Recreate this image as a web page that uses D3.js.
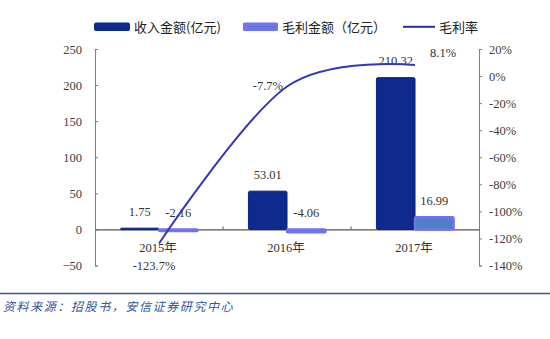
<!DOCTYPE html>
<html><head><meta charset="utf-8">
<script src="https://cdn.jsdelivr.net/npm/d3@7"></script>
<style>
html,body{margin:0;padding:0;background:#fff;}
svg{display:block;}
</style></head>
<body>
<svg id="chart" width="550" height="339"></svg>
<script>
const categories = ["2015年", "2016年", "2017年"];
const revenue = [1.75, 53.01, 210.32];
const grossProfit = [-2.16, -4.06, 16.99];
const grossMargin = [-123.7, -7.7, 8.1];
const leftTicks = [-50, 0, 50, 100, 150, 200, 250];
const rightTicks = [-140, -120, -100, -80, -60, -40, -20, 0, 20];
const legendLabels = ["收入金额(亿元)", "毛利金额（亿元）", "毛利率"];
const sourceText = "资料来源：招股书，安信证券研究中心";

const svg = d3.select("#chart");
const serif = "'Liberation Serif','Times New Roman','Noto Sans CJK SC',serif";
const cjk = "'Noto Sans CJK SC',sans-serif";

const x0 = 95, x1 = 479, yTop = 49, yBot = 265.5;
const x = d3.scaleBand().domain(categories).range([x0, x1]).padding(0);
const xi = d3.scaleBand().domain(["rev", "gp"]).range([0, x.bandwidth()]).paddingInner(0).paddingOuter(0.66);
const yL = d3.scaleLinear().domain([-50, 250]).range([yBot, yTop]);
const yR = d3.scaleLinear().domain([-140, 20]).range([yBot, yTop]);

const revColor = "#0d2a8c", gpFill = "#4f80c6", gpStroke = "#7272f2", lineColor = "#3636b6";

// left axis
const axL = d3.axisLeft(yL).tickValues(leftTicks).tickFormat(d3.format("d"))
  .tickSizeInner(-3).tickSizeOuter(-3).tickPadding(13);
const gL = svg.append("g").attr("transform", `translate(${x0},0)`).call(axL);
gL.select(".domain").attr("stroke", "#808080");
gL.selectAll(".tick line").attr("stroke", "#808080");
gL.selectAll("text").attr("font-family", serif).attr("font-size", 12.5).attr("fill", "#404040");

// right axis
const axR = d3.axisRight(yR).tickValues(rightTicks).tickFormat(d => d + "%")
  .tickSizeInner(3).tickSizeOuter(3).tickPadding(7);
const gR = svg.append("g").attr("transform", `translate(${x1},0)`).call(axR);
gR.select(".domain").attr("stroke", "#808080");
gR.selectAll(".tick line").attr("stroke", "#808080");
gR.selectAll("text").attr("font-family", serif).attr("font-size", 12.5).attr("fill", "#404040");

// category axis at zero
const axX = d3.axisBottom(x).tickSize(0).tickPadding(0).tickFormat(() => "");
const gX = svg.append("g").attr("transform", `translate(0,${yL(0)})`).call(axX);
gX.select(".domain").attr("stroke", "#555").attr("stroke-width", 1.3);
gX.selectAll(".boundary").data(categories.slice(1)).enter().append("line")
  .attr("x1", d => x(d)).attr("x2", d => x(d)).attr("y1", -3).attr("y2", 0)
  .attr("stroke", "#555");

// bars
const g = svg.append("g");
g.selectAll(".rev").data(categories).enter().append("rect")
  .attr("x", (d) => x(d) + xi("rev"))
  .attr("y", (d, i) => yL(Math.max(revenue[i], 0)))
  .attr("width", xi.bandwidth())
  .attr("height", (d, i) => Math.max(1.5, Math.abs(yL(revenue[i]) - yL(0))))
  .attr("rx", 1.5)
  .attr("fill", revColor).attr("stroke", "#0a2280").attr("stroke-width", 1);
g.selectAll(".gp").data(categories).enter().append("rect")
  .attr("x", (d) => x(d) + xi("gp"))
  .attr("y", (d, i) => yL(Math.max(grossProfit[i], 0)))
  .attr("width", xi.bandwidth())
  .attr("height", (d, i) => Math.abs(yL(grossProfit[i]) - yL(0)))
  .attr("rx", 1)
  .attr("fill", gpFill).attr("stroke", gpStroke).attr("stroke-width", 2.5);

// category labels
svg.selectAll(".cat").data(categories).enter().append("text")
  .attr("x", d => x(d) + x.bandwidth() / 2 - 1).attr("y", 251.5)
  .attr("text-anchor", "middle").attr("font-family", serif).attr("font-size", 12.5)
  .attr("fill", "#333").text(d => d);

// bar labels
svg.selectAll(".revLbl").data(categories).enter().append("text")
  .attr("x", d => x(d) + xi("rev") + xi.bandwidth() / 2)
  .attr("y", (d, i) => yL(Math.max(revenue[i], 0)) - 12.5)
  .attr("text-anchor", "middle").attr("font-family", serif).attr("font-size", 12.5)
  .attr("fill", "#333").text((d, i) => revenue[i].toFixed(2));
svg.selectAll(".gpLbl").data(categories).enter().append("text")
  .attr("x", d => x(d) + xi("gp") + xi.bandwidth() / 2)
  .attr("y", (d, i) => yL(Math.max(grossProfit[i], 0)) - 12.5)
  .attr("text-anchor", "middle").attr("font-family", serif).attr("font-size", 12.5)
  .attr("fill", "#333").text((d, i) => grossProfit[i].toFixed(2));

// line
const cx = d => x(d) + x.bandwidth() / 2;
const line = d3.line().x((d, i) => cx(categories[i])).y(d => yR(d)).curve(d3.curveCardinal.tension(0));
svg.append("path").datum(grossMargin).attr("d", line)
  .attr("fill", "none").attr("stroke", lineColor).attr("stroke-width", 2);

// line labels
const lblOff = [[-5, 27, "middle"], [-4, 4, "end"], [15, -8, "start"]];
svg.selectAll(".gmLbl").data(grossMargin).enter().append("text")
  .attr("x", (d, i) => cx(categories[i]) + lblOff[i][0])
  .attr("y", (d, i) => yR(d) + lblOff[i][1])
  .attr("text-anchor", (d, i) => lblOff[i][2])
  .attr("font-family", serif).attr("font-size", 12.5).attr("fill", "#333")
  .text(d => d.toFixed(1) + "%");

// legend
const lg = svg.append("g");
const items = [
  {x: 94, w: 36, type: "rev"},
  {x: 243, w: 35, type: "gp"},
  {x: 403, w: 32, type: "line"}
];
items.forEach((it, i) => {
  if (it.type === "rev") {
    lg.append("rect").attr("x", it.x).attr("y", 22.5).attr("width", it.w).attr("height", 8.5)
      .attr("rx", 2).attr("fill", revColor);
  } else if (it.type === "gp") {
    lg.append("rect").attr("x", it.x).attr("y", 22.5).attr("width", it.w).attr("height", 8.5)
      .attr("rx", 1.5).attr("fill", gpStroke);
    lg.append("line").attr("x1", it.x + 5).attr("x2", it.x + it.w - 2).attr("y1", 26.8).attr("y2", 26.8)
      .attr("stroke", gpFill).attr("stroke-width", 1.5);
  } else {
    lg.append("line").attr("x1", it.x).attr("x2", it.x + it.w).attr("y1", 26.8).attr("y2", 26.8)
      .attr("stroke", "#2a2aa6").attr("stroke-width", 2);
  }
  lg.append("text").attr("x", it.x + it.w + 4).attr("y", 31.5)
    .attr("font-family", cjk).attr("font-size", 13).attr("fill", "#222")
    .text(legendLabels[i]);
});

// footer
svg.append("line").attr("x1", 0).attr("x2", 550).attr("y1", 293.5).attr("y2", 293.5)
  .attr("stroke", "#3d5a86").attr("stroke-width", 1.5);
svg.append("text").attr("x", 3).attr("y", 311)
  .attr("font-family", cjk).attr("font-size", 12).attr("font-style", "italic")
  .attr("letter-spacing", 1.6).attr("fill", "#2f56a0").text(sourceText);
</script>
</body></html>
